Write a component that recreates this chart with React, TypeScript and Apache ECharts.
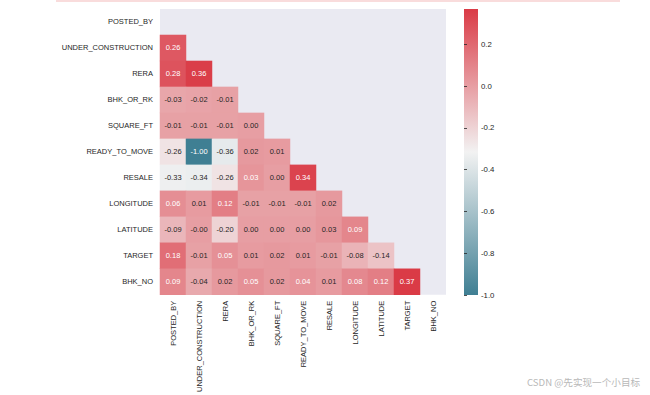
import React, { useEffect, useRef } from "react";
import * as echarts from "echarts";

const variables = [
  "POSTED_BY",
  "UNDER_CONSTRUCTION",
  "RERA",
  "BHK_OR_RK",
  "SQUARE_FT",
  "READY_TO_MOVE",
  "RESALE",
  "LONGITUDE",
  "LATITUDE",
  "TARGET",
  "BHK_NO",
];

// Lower-triangle correlations: row i holds columns 0..i-1
const corrRows: number[][] = [
  [],
  [0.26],
  [0.28, 0.36],
  [-0.03, -0.02, -0.01],
  [-0.01, -0.01, -0.01, 0.0],
  [-0.26, -1.0, -0.36, 0.02, 0.01],
  [-0.33, -0.34, -0.26, 0.034, 0.0, 0.34],
  [0.06, 0.01, 0.12, -0.01, -0.01, -0.01, 0.02],
  [-0.09, -0.001, -0.2, 0.0, 0.0, 0.0, 0.026, 0.09],
  [0.18, -0.01, 0.05, 0.01, 0.02, 0.01, -0.01, -0.08, -0.14],
  [0.09, -0.04, 0.02, 0.05, 0.02, 0.04, 0.01, 0.08, 0.12, 0.37],
];

const colorbarTicks = [-1.0, -0.8, -0.6, -0.4, -0.2, 0.0, 0.2];
const vMin = -1.0;
const vMax = 0.37;
const palette = ["#3f7f93", "#f2f2f2", "#da3b46"];

const FONT = "'Liberation Sans', Arial, sans-serif";
const TEXT = "#262626";

export default function App() {
  const ref = useRef<HTMLDivElement>(null);

  useEffect(() => {
    if (!ref.current) return;
    const chart = echarts.init(ref.current, null, { renderer: "svg" });

    const data: any[] = [];
    corrRows.forEach((row, i) => {
      row.forEach((v, j) => {
        const light = v >= 0.03 || v <= -0.7;
        data.push({
          value: [j, i, v],
          label: { color: light ? "#ffffff" : TEXT },
        });
      });
    });

    chart.setOption({
      animation: false,
      backgroundColor: "#ffffff",
      textStyle: { fontFamily: FONT },
      grid: [
        {
          left: 160,
          top: 9,
          width: 286,
          height: 288,
          show: true,
          backgroundColor: "#EAEAF2",
          borderWidth: 0,
        },
        {
          left: 464,
          top: 9,
          width: 14,
          height: 286,
          show: false,
        },
      ],
      xAxis: [
        {
          type: "category",
          gridIndex: 0,
          data: variables,
          axisLine: { show: false },
          axisTick: { show: false },
          splitLine: { show: false },
          axisLabel: {
            rotate: 90,
            interval: 0,
            margin: 6,
            fontSize: 7.5,
            color: TEXT,
            fontFamily: FONT,
          },
        },
        {
          type: "value",
          gridIndex: 1,
          show: false,
        },
      ],
      yAxis: [
        {
          type: "category",
          gridIndex: 0,
          data: variables,
          inverse: true,
          axisLine: { show: false },
          axisTick: { show: false },
          splitLine: { show: false },
          axisLabel: {
            interval: 0,
            margin: 7,
            fontSize: 7.5,
            color: TEXT,
            fontFamily: FONT,
          },
        },
        {
          type: "value",
          gridIndex: 1,
          position: "right",
          min: vMin,
          max: vMax,
          axisLine: { show: false },
          splitLine: { show: false },
          axisTick: {
            show: true,
            length: 3,
            lineStyle: { color: TEXT, width: 0.8 },
            customValues: colorbarTicks,
          },
          axisLabel: {
            margin: 3,
            fontSize: 7.8,
            color: TEXT,
            fontFamily: FONT,
            customValues: colorbarTicks,
            formatter: (v: number) => v.toFixed(1),
          },
        },
      ],
      visualMap: {
        type: "continuous",
        show: false,
        seriesIndex: 0,
        min: vMin,
        max: vMax,
        inRange: { color: palette },
      },
      series: [
        {
          type: "heatmap",
          xAxisIndex: 0,
          yAxisIndex: 0,
          data,
          label: {
            show: true,
            fontSize: 7.5,
            fontFamily: FONT,
            formatter: (p: any) => p.value[2].toFixed(2),
          },
          itemStyle: { borderWidth: 0 },
          emphasis: { disabled: true },
        },
      ],
      graphic: [
        {
          type: "rect",
          left: 56,
          top: 0,
          shape: { width: 564, height: 2 },
          style: { fill: "#f9dcdc" },
        },
        {
          type: "rect",
          left: 464,
          top: 9,
          shape: { width: 14, height: 286 },
          style: {
            fill: new echarts.graphic.LinearGradient(0, 0, 0, 1, [
              { offset: 0, color: palette[2] },
              { offset: 0.5, color: palette[1] },
              { offset: 1, color: palette[0] },
            ]),
          },
        },
        {
          type: "text",
          left: 527,
          top: 377,
          style: {
            text: "CSDN @先实现一个小目标",
            fontSize: 9.6,
            fill: "#b8b8b8",
            fontFamily: "'Noto Sans CJK SC', sans-serif",
          },
        },
      ],
    });

    return () => chart.dispose();
  }, []);

  return (
    <div
      ref={ref}
      style={{ position: "absolute", left: 0, top: 0, width: 650, height: 395 }}
    />
  );
}
